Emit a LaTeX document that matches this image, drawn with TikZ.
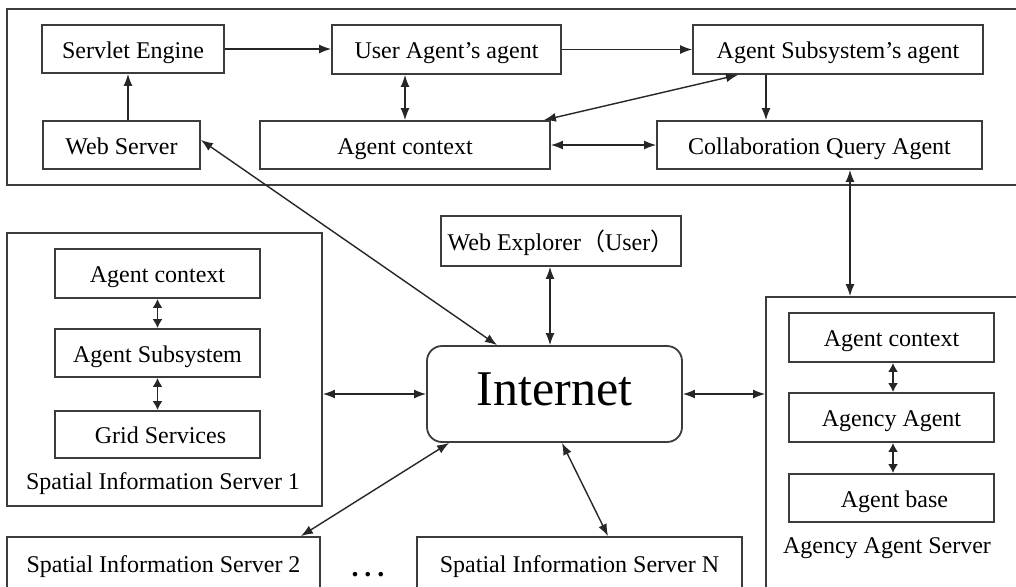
\documentclass[tikz,border=0pt]{standalone}
\usepackage{fontspec}
\setmainfont{Liberation Serif}
\newfontfamily\cjk{Noto Sans CJK SC}
\usepackage{xcolor}
\definecolor{lineGray}{HTML}{3C3C3C}
\usepackage{tikz}
\usetikzlibrary{positioning,arrows.meta}
\tikzset{%
  agentBox/.style={%
    rectangle,
    draw=lineGray,
    line width=0.9pt,
    fill=white,
    inner sep=0pt,
    text height=10pt,
    text depth=1pt,
    font=\fontsize{12}{14}\selectfont
  },
  frameBox/.style={%
    rectangle,
    draw=lineGray,
    line width=0.9pt,
    inner sep=0pt
  },
  netBox/.style={%
    rectangle,
    rounded corners=7.5pt,
    draw=lineGray,
    line width=0.9pt,
    fill=white,
    inner sep=0pt,
    text height=12pt,
    text depth=1pt,
    font=\fontsize{25}{29}\selectfont
  },
  plainLabel/.style={%
    inner sep=0pt,
    text height=10pt,
    text depth=1pt,
    font=\fontsize{12}{14}\selectfont
  },
  arrowLine/.style={%
    -{Latex[length=6pt,width=4.5pt]},
    line width=0.7pt,
    color=black!85
  },
  dualArrow/.style={%
    {Latex[length=6pt,width=4.5pt]}-{Latex[length=6pt,width=4.5pt]},
    line width=0.7pt,
    color=black!85
  },
  stackArrow/.style={%
    {Latex[length=4.5pt,width=5pt]}-{Latex[length=4.5pt,width=5pt]},
    line width=0.9pt,
    color=black!85
  }
}

\begin{document}
\begin{tikzpicture}[x=0.5pt,y=-0.5pt]
  \useasboundingbox (0,0) rectangle (1016,586);
  \fill[white] (0,0) rectangle (1016,586);
  \clip (0,0) rectangle (1016,586);

  % web side
  \node[frameBox, minimum width=511.5pt, minimum height=88pt] (webSide) at (518.5,97) {};
  \node[agentBox, minimum width=91pt, minimum height=24pt] (servlet) at (133,49) {Servlet Engine};
  \node[agentBox, minimum width=114.5pt, minimum height=24.5pt] (userAgent) at (446.5,49.5) {User Agent’s agent};
  \node[agentBox, minimum width=145pt, minimum height=24.5pt] (subAgent) at (838,49.5) {Agent Subsystem’s agent};
  \node[agentBox, minimum width=78.5pt, minimum height=24pt] (webServer) at (121.5,145) {Web Server};
  \node[agentBox, minimum width=145pt, minimum height=24pt] (ctxTop) at (405,145) {Agent context};
  \node[agentBox, minimum width=162.5pt, minimum height=24pt] (collab) at (819.5,145) {Collaboration Query Agent};

  \node[agentBox, minimum width=120pt, minimum height=25pt] (explorer) at (561,241) {Web Explorer{\cjk （}User{\cjk ）}};
  \node[netBox, minimum width=127.5pt, minimum height=48pt] (internet) at (554.5,394) {Internet};

  % spatial information server 1
  \node[frameBox, minimum width=157.5pt, minimum height=136.5pt] (sisOne) at (164.5,369.5) {};
  \node[agentBox, minimum width=102.5pt, minimum height=24.5pt] (ctxLeft) at (157.5,273.5) {Agent context};
  \node[agentBox, minimum width=102.5pt, minimum height=24pt] (subsys) at (157.5,353) {Agent Subsystem};
  \node[agentBox, minimum width=102.5pt, minimum height=23.5pt] (grid) at (157.5,434.5) {\ Grid Services};
  \node[plainLabel] (sisOneLabel) at (163,480) {Spatial Information Server 1};

  \node[agentBox, minimum width=156.5pt, minimum height=26pt] (sisTwo) at (163.5,563) {Spatial Information Server 2};
  \node[plainLabel, font=\fontsize{14}{16}\selectfont\bfseries] (dots) at (368,567) {.\hspace{3pt}.\hspace{3pt}.};
  \node[agentBox, minimum width=162.5pt, minimum height=26pt] (sisN) at (579.5,563) {Spatial Information Server N};

  % agency agent server
  \node[frameBox, minimum width=132pt, minimum height=151.5pt] (agency) at (898,448.5) {};
  \node[agentBox, minimum width=102.5pt, minimum height=24.5pt] (ctxRight) at (891.5,337.5) {Agent context};
  \node[agentBox, minimum width=102.5pt, minimum height=24.5pt] (agencyAgent) at (891.5,417.5) {Agency Agent};
  \node[agentBox, minimum width=102.5pt, minimum height=24pt] (agentBase) at (891.5,498) {\ Agent base};
  \node[plainLabel] (agencyLabel) at (887,544) {Agency Agent Server};

  \draw[arrowLine] (servlet.east) -- (servlet.east -| userAgent.west);
  \draw[arrowLine] (userAgent.east) -- (userAgent.east -| subAgent.west);
  \draw[arrowLine] ([xshift=3.25pt]webServer.north) -- ([xshift=3.25pt]webServer.north |- servlet.south);
  \draw[dualArrow] (ctxTop.north) -- (ctxTop.north |- userAgent.south);
  \draw[arrowLine] ([xshift=-36pt]subAgent.south) -- ([xshift=-36pt]subAgent.south |- collab.north);
  \draw[dualArrow] ([xshift=-50pt]subAgent.south) -- ([xshift=-3.5pt]ctxTop.north east);
  \draw[dualArrow] (ctxTop.east) -- (collab.west);

  \draw[dualArrow] ([yshift=2.5pt]webServer.east) -- ([xshift=-28.75pt]internet.north);
  \draw[dualArrow] ([xshift=-5.5pt]explorer.south) -- ([xshift=-5.5pt]explorer.south |- internet.north);
  \draw[dualArrow] ([xshift=15.25pt]collab.south) -- ([xshift=15.25pt]collab.south |- agency.north);
  \draw[dualArrow] (sisOne.east |- internet.west) -- (internet.west);
  \draw[dualArrow] (internet.east) -- (internet.east -| agency.west);
  \draw[dualArrow] ([xshift=-10pt]sisTwo.north east) -- ([xshift=11.5pt]internet.south west);
  \draw[dualArrow] ([xshift=3.75pt]internet.south) -- ([xshift=14.25pt]sisN.north);

  \draw[stackArrow] (ctxLeft.south) -- (subsys.north);
  \draw[stackArrow] (subsys.south) -- (grid.north);
  \draw[stackArrow] ([xshift=0.75pt]ctxRight.south) -- ([xshift=0.75pt]agencyAgent.north);
  \draw[stackArrow] ([xshift=0.75pt]agencyAgent.south) -- ([xshift=0.75pt]agentBase.north);
\end{tikzpicture}
\end{document}
